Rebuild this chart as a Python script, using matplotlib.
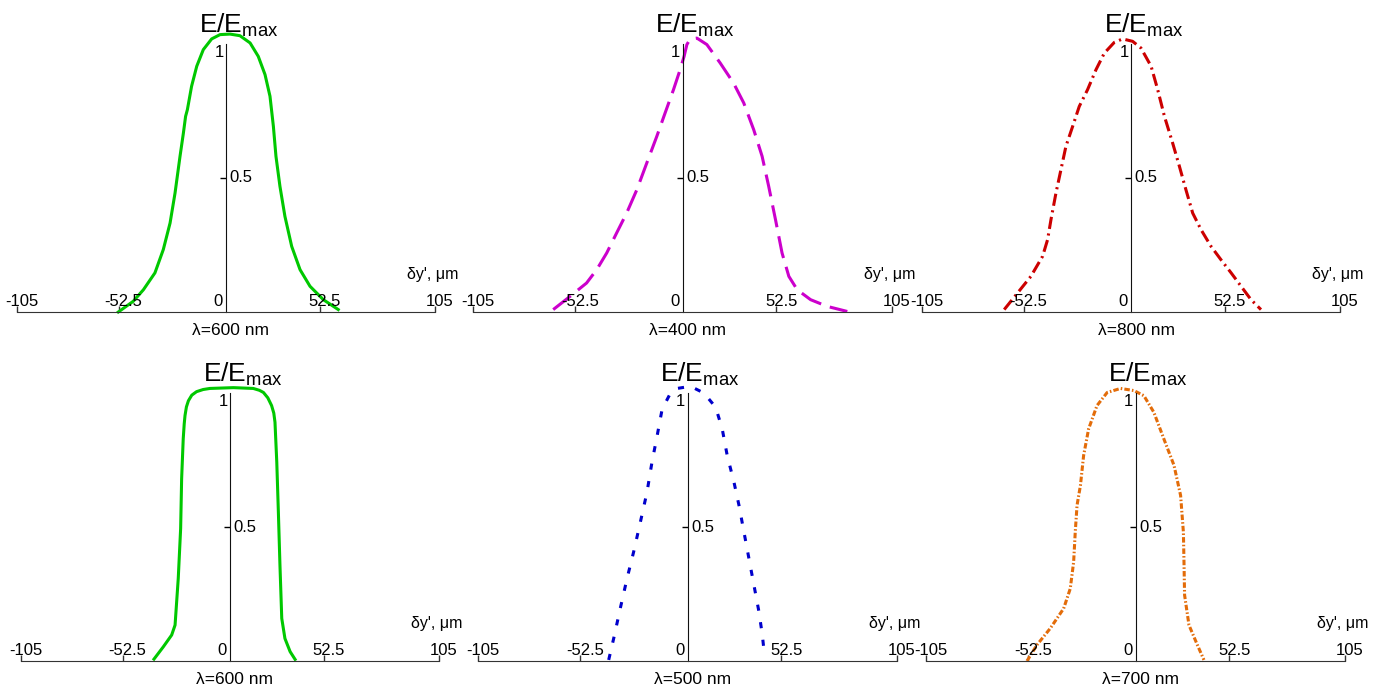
import matplotlib
matplotlib.use("Agg")
import matplotlib.pyplot as plt

plt.rcParams['font.family'] = ['Liberation Sans', 'DejaVu Sans']

# tick positions as they sit in the picture (labels say +-52.5)
xtick_pos = [-105, -54, 47, 105]
xtick_lab = ['-105', '-52.5', '52.5', '105']

# --- curves (dy', um ; E/Emax) ---
x_600a = [-54.1, -46.6, -41.5, -35.7, -31.5, -28.1, -25.6, -23.1, -21.4, -20.3, -19.4, -17.3, -14.7,
          -11.4, -7.2, -3.0, 2.0, 7.0, 12.1, 16.2, 19.6, 22.1, 23.8, 25.1, 27.1, 29.6, 33.0, 37.2,
          42.2, 48.9, 56.4]
y_600a = [0.0, 0.04, 0.083, 0.146, 0.233, 0.332, 0.444, 0.581, 0.668, 0.73, 0.755, 0.842, 0.917,
          0.979, 1.019, 1.035, 1.037, 1.031, 1.004, 0.954, 0.886, 0.805, 0.693, 0.581, 0.469, 0.357,
          0.245, 0.158, 0.096, 0.046, 0.009]

x_400 = [-64.8, -56.4, -48.1, -43.0, -38.0, -33.0, -28.0, -22.9, -17.9, -12.9, -8.7, -4.5, -1.2,
         0.8, 2.2, 3.9, 7.2, 12.2, 18.9, 25.6, 30.7, 35.7, 39.9, 43.2, 46.6, 49.9, 53.3, 57.5,
         64.2, 72.5, 82.6]
y_400 = [0.009, 0.058, 0.108, 0.158, 0.22, 0.295, 0.369, 0.456, 0.556, 0.655, 0.743, 0.83, 0.904,
         0.954, 0.998, 1.019, 1.022, 0.998, 0.929, 0.854, 0.78, 0.68, 0.581, 0.469, 0.345, 0.22,
         0.133, 0.083, 0.046, 0.021, 0.002]

x_800 = [-63.7, -57.0, -50.3, -44.4, -41.9, -40.2, -37.7, -35.2, -32.7, -29.3, -26.0, -21.8, -17.6,
         -13.4, -8.4, -4.2, 0.8, 5.0, 10.1, 13.4, 16.8, 20.9, 24.3, 27.6, 31.0, 35.2, 40.2, 45.2,
         50.3, 55.3, 60.3, 65.3]
y_800 = [0.009, 0.071, 0.133, 0.208, 0.27, 0.345, 0.444, 0.531, 0.618, 0.693, 0.767, 0.83, 0.904,
         0.966, 1.006, 1.019, 1.01, 0.985, 0.917, 0.83, 0.73, 0.631, 0.544, 0.456, 0.369, 0.307,
         0.245, 0.195, 0.146, 0.096, 0.046, 0.009]

x_600b = [-38.2, -33.5, -29.3, -27.6, -26.0, -24.8, -24.3, -23.5, -23.0, -22.6, -21.9, -20.9, -19.2,
          -16.8, -13.5, -10.1, 1.7, 11.7, 14.8, 16.8, 19.0, 20.9, 22.0, 22.6, 23.5, 24.3, 25.1,
          26.0, 27.6, 30.2, 32.7]
y_600b = [0.007, 0.053, 0.097, 0.134, 0.308, 0.494, 0.68, 0.829, 0.885, 0.916, 0.948, 0.971, 0.992,
          1.005, 1.013, 1.017, 1.02, 1.017, 1.01, 1.002, 0.982, 0.953, 0.925, 0.891, 0.742, 0.556,
          0.357, 0.159, 0.084, 0.035, 0.006]

x_500 = [-39.5, -37.0, -33.7, -30.3, -27.0, -23.6, -20.3, -17.8, -15.2, -12.7, -8.5, -5.2, 1.5, 8.2,
         14.1, 17.4, 19.9, 23.3, 25.8, 28.3, 30.8, 33.3, 35.8, 37.5, 38.4]
y_500 = [0.004, 0.084, 0.196, 0.308, 0.407, 0.519, 0.63, 0.742, 0.841, 0.94, 1.0, 1.017, 1.025, 1.0,
         0.947, 0.866, 0.767, 0.667, 0.581, 0.481, 0.382, 0.283, 0.184, 0.097, 0.035]

x_700 = [-54.4, -49.4, -42.7, -36.0, -32.7, -31.0, -30.2, -29.3, -27.6, -26.0, -23.5, -19.3, -14.2,
         -7.5, -0.8, 4.2, 9.2, 14.2, 19.3, 22.6, 24.0, 24.3, 24.6, 26.8, 31.0, 34.3]
y_700 = [0.0, 0.06, 0.122, 0.196, 0.27, 0.37, 0.481, 0.581, 0.655, 0.767, 0.866, 0.953, 1.002,
         1.017, 1.009, 0.99, 0.928, 0.829, 0.73, 0.618, 0.481, 0.37, 0.246, 0.134, 0.06, 0.004]

W, H = 1379, 689
YMAX = 1.12
fig = plt.figure(figsize=(W / 100, H / 100), dpi=100)

# (left px, right px, axis-line px from top, x, y, colour, dashes, label)
panels = [
    (17, 435, 312, x_600a, y_600a, '#00C800', None, 'λ=600 nm'),
    (473, 892, 312, x_400, y_400, '#CC00CC', (7.3, 3.0), 'λ=400 nm'),
    (922, 1340, 312, x_800, y_800, '#CC0000', (4.0, 1.5, 0.7, 1.5), 'λ=800 nm'),
    (21, 439, 661, x_600b, y_600b, '#00C800', None, 'λ=600 nm'),
    (478, 897, 661, x_500, y_500, '#0000CC', (2.0, 3.8), 'λ=500 nm'),
    (926, 1345, 661, x_700, y_700, '#E36C09', (1.8, 0.7, 0.5, 0.7), 'λ=700 nm'),
]

for xl, xr, y0, xs, ys, col, dash, lab in panels:
    ax = fig.add_axes([xl / W, (H - y0) / H, (xr - xl) / W, 268 * YMAX / H])
    ax.set_xlim(-105, 105)
    ax.set_ylim(0, YMAX)
    ax.patch.set_visible(False)
    for s in ['top', 'right']:
        ax.spines[s].set_visible(False)
    ax.spines['bottom'].set_color('#333333')
    ax.spines['left'].set_color('#111111')
    ax.spines['left'].set_position(('data', 0))
    ax.spines['left'].set_bounds(0, 1)
    ax.set_xticks(xtick_pos)
    ax.set_yticks([0.5])
    ax.tick_params(axis='x', direction='in', length=4, width=1, color='#333333', labelbottom=False)
    ax.tick_params(axis='y', direction='out', length=4, width=1, labelleft=False)

    line, = ax.plot(xs, ys, color=col, lw=2.2, clip_on=False)
    if dash is not None:
        line.set_dashes(dash)

    kw = dict(textcoords='offset points', fontsize=12)
    for p, t in zip(xtick_pos, xtick_lab):
        ax.annotate(t, (p, 0), xytext=(3.6, 4.3), ha='center', va='baseline', **kw)
    ax.annotate('0', (0, 0), xytext=(-2.2, 4.3), ha='right', va='baseline', **kw)
    ax.annotate('0.5', (0, 0.5), xytext=(2.6, 0), ha='left', va='center', **kw)
    ax.annotate('1', (0, 1), xytext=(-1.5, -0.5), ha='right', va='top', **kw)
    ax.annotate("δy', μm", (105, 0), xytext=(17, 27), ha='right', va='center',
                textcoords='offset points', fontsize=11.5)
    ax.annotate(lab, (0, 0), xytext=(3.6, -13), ha='center', va='center',
                textcoords='offset points', fontsize=12.5)
    ax.annotate(r'$\mathregular{E/E_{max}}$', (0, 1), xytext=(9, 8), ha='center',
                va='baseline', textcoords='offset points', fontsize=19)

fig.savefig('out.png', dpi=100)
